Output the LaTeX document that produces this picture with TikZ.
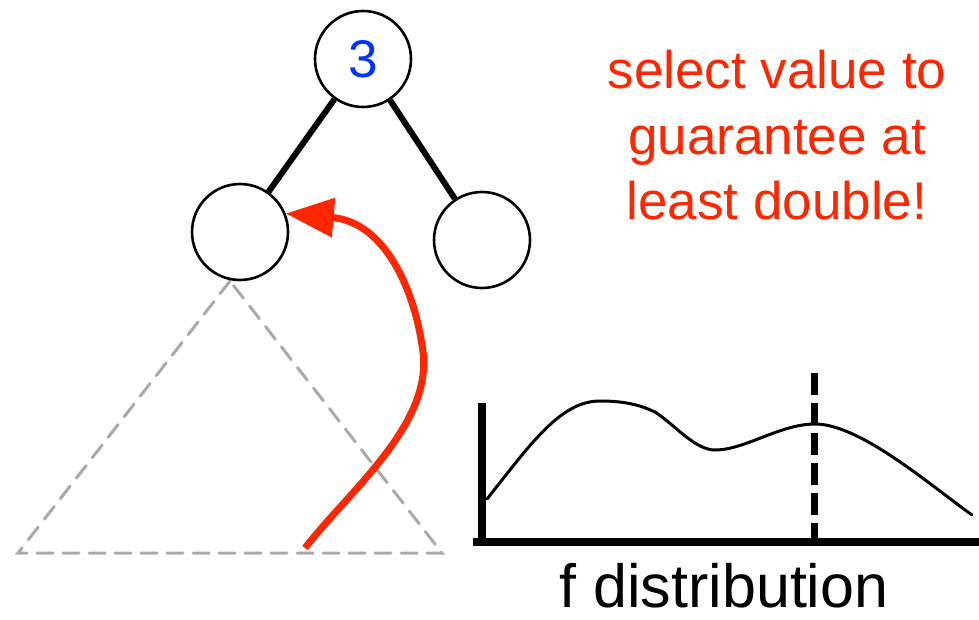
\documentclass[tikz,border=0pt]{standalone}
\usepackage{fontspec}
\setmainfont{Liberation Sans}
\usetikzlibrary{arrows.meta}
\definecolor{hlred}{RGB}{255,38,0}
\definecolor{numblue}{RGB}{0,51,255}
\definecolor{trigray}{RGB}{170,170,170}
\tikzset{
  treenode/.style={circle, draw=black, line width=2.6pt, minimum size=96pt, inner sep=0pt, fill=white},
  treeedge/.style={line width=6pt},
  redtext/.style={text=hlred, font=\fontsize{53}{65}\selectfont, anchor=base},
  subtree/.style={draw=trigray, line width=3pt, dash pattern=on 16pt off 10pt, line cap=round},
  axisline/.style={line width=8pt},
  curveline/.style={line width=3pt, line cap=round},
  cutline/.style={line width=7pt, dash pattern=on 22pt off 8pt},
  movearrow/.style={draw=hlred, line width=7pt, -{Triangle[length=48pt,width=38pt]}}
}
\begin{document}
\begin{tikzpicture}[x=1pt,y=-1pt]
\useasboundingbox (0,0) rectangle (979,620);
% subtree triangle
\coordinate (ta) at (230,281);
\coordinate (tl) at (18,553);
\coordinate (tr) at (442,553);
\draw[subtree] (ta) -- (tl) -- (tr) -- cycle;
% tree
\node[treenode] (root) at (363,59) {\fontsize{53}{60}\selectfont\color{numblue}3};
\node[treenode] (lc) at (240,232) {};
\node[treenode] (rc) at (482,240) {};
\draw[treeedge] (root) -- (lc);
\draw[treeedge] (root) -- (rc);
% red arrow
\coordinate (astart) at (305,548);
\draw[movearrow] (astart) .. controls (350,490) and (432,425) .. (423,352)
  .. controls (415,290) and (385,222) .. (lc.22);
% red text
\node[redtext] (t1) at (777,89) {select value to};
\node[redtext] (t2) at (777,155) {guarantee at};
\node[redtext] (t3) at (777,220) {least double!};
% distribution plot
\coordinate (yaxtop) at (482,403);
\coordinate (origin) at (482,542);
\coordinate (xaxend) at (979,542);
\coordinate (xaxstart) at (473,542);
\draw[axisline] (yaxtop) -- (482,546);
\draw[axisline] (xaxstart) -- (xaxend);
\coordinate (c0) at (487,499);
\coordinate (c1) at (600,401);
\coordinate (c2) at (715,450);
\coordinate (c3) at (815,424);
\coordinate (c4) at (972,515);
\draw[curveline] (c0) .. controls (530,445) and (560,401) .. (c1)
  .. controls (625,401) and (640,405) .. (655,412)
  .. controls (675,425) and (695,450) .. (c2)
  .. controls (745,450) and (780,424) .. (c3)
  .. controls (860,424) and (930,485) .. (c4);
\coordinate (cuttop) at (814,373);
\coordinate (cutbot) at (814,542);
\draw[cutline] (cuttop) -- (cutbot);
\node[anchor=base, inner sep=0pt, font=\fontsize{61}{70}\selectfont] (flabel) at (724,607) {f distribution};
\end{tikzpicture}
\end{document}
